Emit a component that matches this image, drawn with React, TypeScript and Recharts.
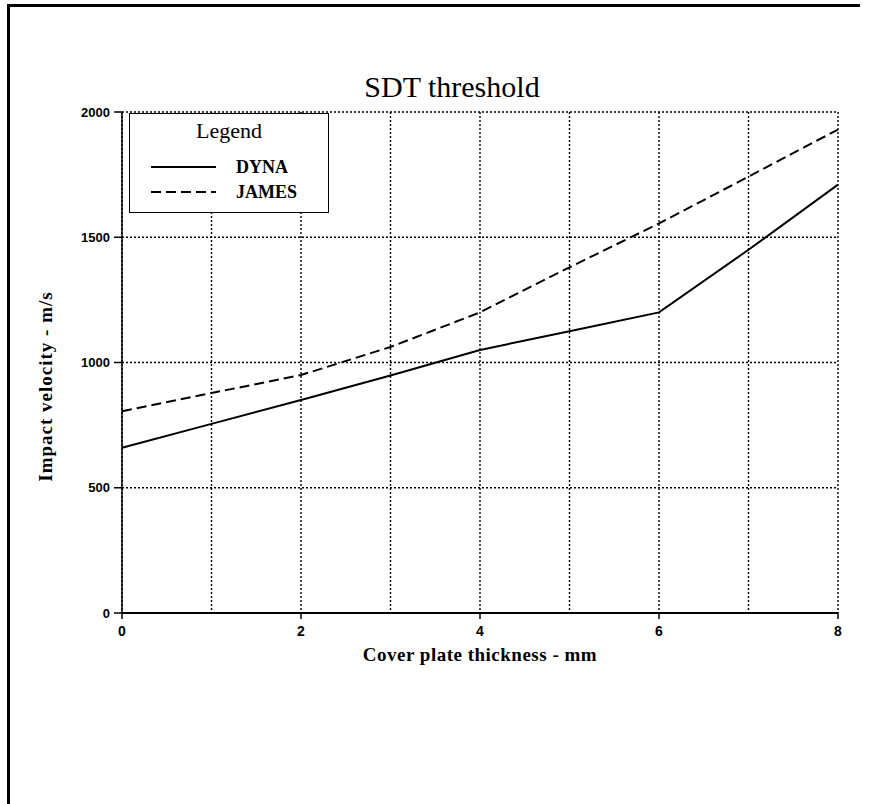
import React from "react";
import { LineChart, Line, XAxis, YAxis, CartesianGrid, Legend } from "recharts";

const thickness = [0, 1, 2, 3, 4, 5, 6, 7, 8];
const dynaValues = [660, 755, 850, 948, 1050, 1125, 1200, 1450, 1710];
const jamesValues = [805, 878, 950, 1062, 1200, 1380, 1555, 1742, 1930];
const yTicks = [0, 500, 1000, 1500, 2000];
const xLabelTicks = [0, 2, 4, 6, 8];
const seriesNames = ["DYNA", "JAMES"];
const seriesDash = ["", "10 5"];

const data = thickness.map((x, i) => ({ x, DYNA: dynaValues[i], JAMES: jamesValues[i] }));

const serif = "'Liberation Serif', 'Times New Roman', serif";
const sans = "'Liberation Sans', Arial, sans-serif";

const XTick = (props: any) => {
  const { x, y, payload } = props;
  if (!xLabelTicks.includes(payload.value)) return <g />;
  return (
    <g>
      <line x1={x} x2={x} y1={y - 14} y2={y - 7} stroke="#000" strokeWidth={1.5} />
      <text x={x} y={y} dy="0.71em" textAnchor="middle" fontFamily={sans} fontWeight={700} fontSize={14} fill="#000">
        {payload.value}
      </text>
    </g>
  );
};

const LegendBox = () => (
  <div
    style={{
      width: 200,
      height: 100,
      border: "1.5px solid #000",
      background: "#fff",
      boxSizing: "border-box",
      position: "relative",
      fontFamily: serif,
      color: "#000",
    }}
  >
    <div style={{ position: "absolute", left: 0, width: "100%", top: 4, textAlign: "center", fontSize: 22, lineHeight: "26px" }}>
      Legend
    </div>
    {seriesNames.map((name, i) => (
      <div key={name} style={{ position: "absolute", left: 0, top: 42 + i * 25, height: 22, width: "100%" }}>
        <svg width={90} height={22} style={{ position: "absolute", left: 0, top: 0 }}>
          <line x1={21} x2={86} y1={11} y2={11} stroke="#000" strokeWidth={1.8} strokeDasharray={seriesDash[i] || undefined} />
        </svg>
        <span style={{ position: "absolute", left: 106, top: 0, fontSize: 18, fontWeight: 700, lineHeight: "22px" }}>{name}</span>
      </div>
    ))}
  </div>
);

export default function App() {
  return (
    <div style={{ position: "relative", width: 888, height: 804 }}>
      <style>{"body{margin:0;}"}</style>
      <div style={{ position: "absolute", left: 7, top: 4, width: 853, height: 3, background: "#000" }} />
      <div style={{ position: "absolute", left: 7, top: 4, width: 3, height: 800, background: "#000" }} />
      <div
        style={{
          position: "absolute",
          left: 0,
          width: 904,
          top: 70,
          textAlign: "center",
          fontFamily: serif,
          fontSize: 30,
          color: "#000",
          whiteSpace: "nowrap",
          pointerEvents: "none",
        }}
      >
        SDT threshold
      </div>
      <div style={{ position: "absolute", left: 0, top: 0 }}>
        <LineChart width={870} height={800} data={data} margin={{ top: 112, right: 32, bottom: 147, left: 60 }}>
          <CartesianGrid stroke="#000" strokeDasharray="2 2" strokeWidth={1.4} />
          <XAxis
            type="number"
            dataKey="x"
            domain={[0, 8]}
            ticks={thickness}
            interval={0}
            height={40}
            tickLine={false}
            tickSize={7}
            tickMargin={6}
            tick={<XTick />}
            axisLine={{ stroke: "#000", strokeWidth: 2 }}
            label={(p: any) => {
              const vb = p.viewBox || {};
              const cx = vb.x + vb.width / 2;
              return (
                <text x={cx} y={vb.y + 48} textAnchor="middle" fontFamily={serif} fontWeight={700} fontSize={19} letterSpacing={0.5} fill="#000">
                  Cover plate thickness - mm
                </text>
              );
            }}
          />
          <YAxis
            type="number"
            domain={[0, 2000]}
            ticks={yTicks}
            interval={0}
            width={62}
            tickSize={8}
            tickMargin={4}
            tickLine={{ stroke: "#000", strokeWidth: 1.5 }}
            axisLine={{ stroke: "#000", strokeWidth: 1.5 }}
            tick={{ fill: "#000", fontFamily: sans, fontWeight: 700, fontSize: 13 }}
            label={(p: any) => {
              const vb = p.viewBox || {};
              const lx = vb.x - 15;
              const ly = vb.y + vb.height / 2 + 24;
              return (
                <text
                  x={lx}
                  y={ly}
                  transform={`rotate(-90 ${lx} ${ly})`}
                  textAnchor="middle"
                  dominantBaseline="central"
                  fontFamily={serif}
                  fontWeight={700}
                  fontSize={19}
                  letterSpacing={1}
                  fill="#000"
                >
                  Impact velocity - m/s
                </text>
              );
            }}
          />
          <Legend
            layout="vertical"
            align="center"
            verticalAlign="middle"
            content={() => <LegendBox />}
            wrapperStyle={{ position: "absolute", left: 129, top: 113, width: 200, height: 100 }}
          />
          <Line type="linear" dataKey="DYNA" stroke="#000" strokeWidth={2} dot={false} isAnimationActive={false} />
          <Line type="linear" dataKey="JAMES" stroke="#000" strokeWidth={2} strokeDasharray="10 5" dot={false} isAnimationActive={false} />
        </LineChart>
      </div>
    </div>
  );
}
